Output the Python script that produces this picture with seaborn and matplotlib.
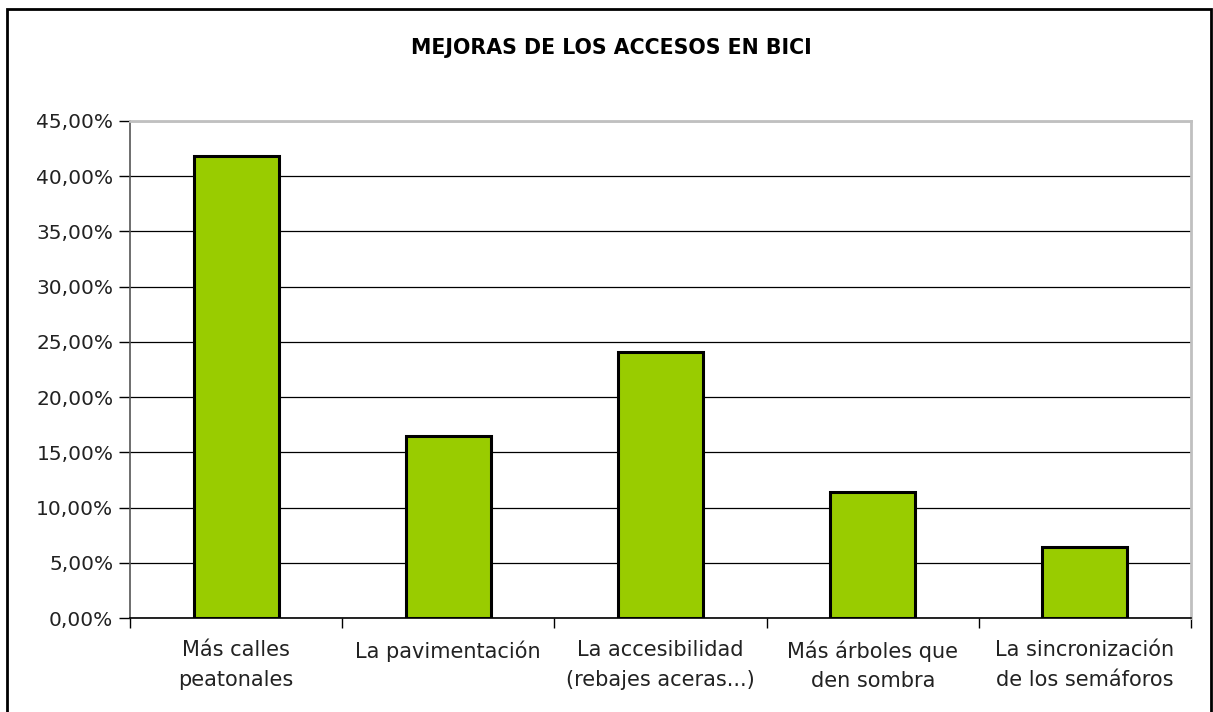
import matplotlib
matplotlib.use('Agg')
import matplotlib.pyplot as plt
import matplotlib.ticker as mticker
from matplotlib.patches import Rectangle
import seaborn as sns
import pandas as pd

# data
categories = ['Más calles\npeatonales', 'La pavimentación', 'La accesibilidad\n(rebajes aceras...)',
              'Más árboles que\nden sombra', 'La sincronización\nde los semáforos']
values = [41.8, 16.5, 24.1, 11.4, 6.4]
title = 'MEJORAS DE LOS ACCESOS EN BICI'
yticks = [0, 5, 10, 15, 20, 25, 30, 35, 40, 45]

df = pd.DataFrame({'cat': categories, 'val': values})

sns.set_style('white')
plt.rcParams['font.family'] = ['DejaVu Sans']

W, H = 1213, 712
fig = plt.figure(figsize=(W / 100, H / 100), dpi=100)
ax = fig.add_axes([130 / W, 1 - 618 / H, (1191 - 130) / W, (618 - 121) / H])

# gridlines behind bars
ax.set_axisbelow(True)
ax.yaxis.grid(True, color='black', linewidth=0.9)

sns.barplot(data=df, x='cat', y='val', color='#99CC00', width=0.4,
            edgecolor='black', linewidth=2.2, saturation=1, ax=ax)

ax.set_xlim(-0.5, 4.5)
ax.set_ylim(0, 45)
ax.set_yticks(yticks)
ax.yaxis.set_major_formatter(mticker.FuncFormatter(lambda v, p: f'{v:.2f}%'.replace('.', ',')))
ax.set_xlabel('')
ax.set_ylabel('')

# category boundary ticks on x axis
ax.set_xticks([i - 0.5 for i in range(len(categories) + 1)], minor=True)
ax.tick_params(axis='x', which='minor', length=7, width=1, color='black', direction='out', bottom=True)
ax.tick_params(axis='x', which='major', length=0, pad=16, labelsize=15, colors='#222222')
ax.tick_params(axis='y', length=8, width=1, color='black', direction='out', left=True,
               pad=4, labelsize=14.5, colors='#222222')
for lab in ax.get_xticklabels():
    lab.set_linespacing(1.6)

for side in ['top', 'right']:
    ax.spines[side].set_visible(True)
    ax.spines[side].set_color('#c0c0c0')
    ax.spines[side].set_linewidth(2)
ax.spines['left'].set_color('#555555')
ax.spines['left'].set_linewidth(1.2)
ax.spines['bottom'].set_color('black')
ax.spines['bottom'].set_linewidth(1.2)

fig.text(611 / W, 1 - 48 / H, title, ha='center', va='center',
         fontsize=14.8, fontweight='bold', color='black')

# outer frame of the chart
fig.patches.append(Rectangle((7 / W, -0.01), (1211 - 7) / W, 1.01 - 9 / H,
                             transform=fig.transFigure, fill=False,
                             edgecolor='black', linewidth=2))

fig.savefig('out.png', dpi=100)
